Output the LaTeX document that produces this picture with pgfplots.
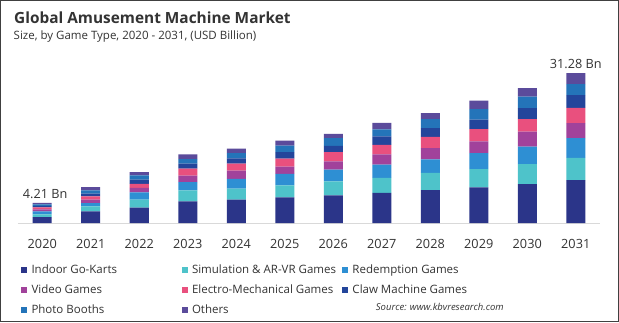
\documentclass[border=0pt]{standalone}
\usepackage{pgfplots}
\usepackage{pgfplotstable}
\pgfplotsset{compat=1.18}
\usepackage{fontspec}
\setmainfont{Open Sans}
\definecolor{cgo}{HTML}{2B3589}
\definecolor{csim}{HTML}{4EC3CA}
\definecolor{cred}{HTML}{2E8FD3}
\definecolor{cvid}{HTML}{A1429B}
\definecolor{celec}{HTML}{E9507E}
\definecolor{cclaw}{HTML}{23459B}
\definecolor{cphoto}{HTML}{2474B9}
\definecolor{coth}{HTML}{5B4B9B}
\definecolor{txt}{HTML}{333333}
\pgfplotstableread{
x go sim red vid elec claw photo oth
0 1.20 0.62 0.58 0.42 0.42 0.35 0.32 0.30
1 2.43 1.04 0.70 0.70 0.70 0.56 0.70 0.63
2 3.21 1.67 1.53 0.91 0.84 0.91 0.84 0.70
3 4.52 2.29 1.74 1.32 1.46 1.04 0.97 0.97
4 4.87 2.29 2.02 1.74 1.46 1.11 1.11 0.90
5 5.36 2.51 2.37 1.53 1.67 1.32 1.39 1.04
6 5.76 2.92 2.43 1.74 1.94 1.32 1.60 0.90
7 6.27 3.14 2.79 2.09 2.02 1.74 1.46 1.39
8 6.87 3.61 2.78 2.36 2.36 1.80 1.87 1.25
9 7.44 3.82 3.34 2.43 2.57 1.95 2.22 1.74
10 8.13 4.17 3.61 3.13 2.65 2.29 2.36 1.81
11 8.97 4.59 4.17 3.13 3.13 2.71 2.29 2.29
}\datatable
\begin{document}
\begin{tikzpicture}[x=1pt,y=1pt]
\path[use as bounding box] (0,0) rectangle (619,322);
\fill[white] (0,0) rectangle (619,322);
\draw[line width=1.2pt, black!75] (0.6,0.6) rectangle (618.4,321.4);
\node[anchor=base west, inner sep=0pt, text=txt, font=\fontsize{15.4}{18}\selectfont\bfseries] at (14,298.5) {Global Amusement Machine Market};
\node[anchor=base west, inner sep=0pt, text=txt, font=\fontsize{11.5}{14}\selectfont] at (13.5,282.5) {Size, by Game Type, 2020 - 2031, (USD Billion)};
\node[anchor=base east, inner sep=0pt, text=txt, font=\fontsize{9.5}{12}\selectfont\itshape] at (504,12) {Source: www.kbvresearch.com};
\begin{axis}[
  at={(18pt,99pt)}, anchor=south west,
  width=582pt, height=158.2pt, scale only axis,
  xmin=-0.5, xmax=11.5, ymin=0, ymax=33,
  ybar stacked, bar width=19pt,
  axis y line=none,
  axis x line*=bottom,
  x axis line style={draw=black!15, line width=0.8pt, -},
  xtick={0,...,11},
  xticklabels={2020,2021,2022,2023,2024,2025,2026,2027,2028,2029,2030,2031},
  major tick length=0pt,
  xticklabel style={anchor=base, yshift=-25pt, text=txt, font=\fontsize{12.7}{15}\selectfont},
  /pgf/number format/assume math mode=true,
  clip=false,
  legend columns=3,
  legend style={draw=none, fill=none, at={(axis description cs:0.00515,-0.261)}, anchor=north west,
    inner sep=0pt, outer sep=0pt, row sep=8pt, text=txt,
    font=\fontsize{11.5}{14}\selectfont,
    nodes={inner sep=0pt, text height=9pt, text depth=3pt, anchor=base west},
    /tikz/every odd column/.append style={column sep=4.5pt}},
  legend image code/.code={\fill[#1] (0pt,0.5pt) rectangle (6pt,6.5pt);},
]
\addplot[fill=cgo, draw=none] table[x=x, y=go] {\datatable};
\addlegendentry{\makebox[150pt][l]{Indoor Go-Karts}}
\addplot[fill=csim, draw=none] table[x=x, y=sim] {\datatable};
\addlegendentry{\makebox[150pt][l]{Simulation \& AR-VR Games}}
\addplot[fill=cred, draw=none] table[x=x, y=red] {\datatable};
\addlegendentry{Redemption Games}
\addplot[fill=cvid, draw=none] table[x=x, y=vid] {\datatable};
\addlegendentry{\makebox[150pt][l]{Video Games}}
\addplot[fill=celec, draw=none] table[x=x, y=elec] {\datatable};
\addlegendentry{\makebox[150pt][l]{Electro-Mechanical Games}}
\addplot[fill=cclaw, draw=none] table[x=x, y=claw] {\datatable};
\addlegendentry{Claw Machine Games}
\addplot[fill=cphoto, draw=none] table[x=x, y=photo] {\datatable};
\addlegendentry{\makebox[150pt][l]{Photo Booths}}
\addplot[fill=coth, draw=none] table[x=x, y=oth] {\datatable};
\addlegendentry{Others}
\node[anchor=south, inner sep=0pt, text=txt, font=\fontsize{12.7}{15}\selectfont] at (axis cs:0.06,5.1) {4.21 Bn};
\node[anchor=south, inner sep=0pt, text=txt, font=\fontsize{12.7}{15}\selectfont] at (axis cs:11,32.2) {31.28 Bn};
\end{axis}
\end{tikzpicture}
\end{document}
